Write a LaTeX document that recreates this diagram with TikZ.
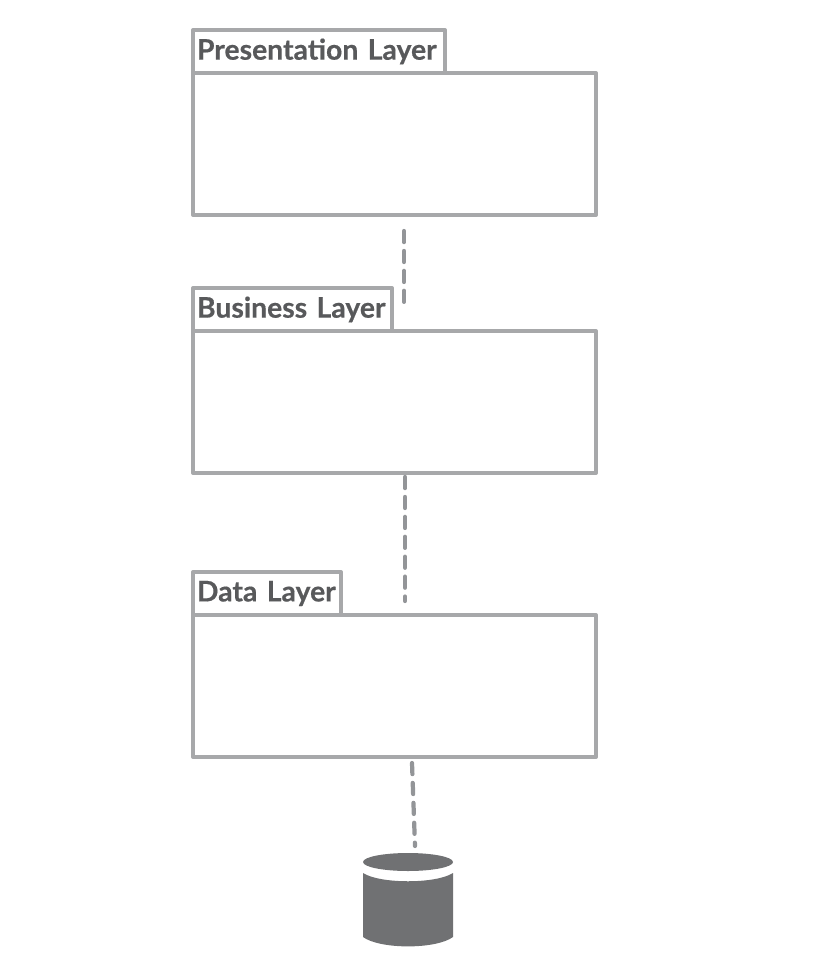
\documentclass[tikz,border=0pt]{standalone}
\usepackage{fontspec}
\setmainfont[BoldFeatures={FakeBold=0.5,WordSpace=0.6}]{Lato}
\definecolor{frameGray}{HTML}{A7A8AA}
\definecolor{linkGray}{HTML}{939598}
\definecolor{textGray}{HTML}{58595B}
\definecolor{dbGray}{HTML}{707173}
\tikzset{
    layer/.style={draw=frameGray,line width=3.5pt,line join=round,outer sep=0pt,minimum width=12.09cm,minimum height=4.26cm,inner sep=0pt,anchor=north west},
    tab/.style={draw=frameGray,line width=3.5pt,line join=round,outer sep=0pt,minimum height=1.29cm,inner ysep=0pt,inner xsep=0.12cm,anchor=south west,align=left,text=textGray,font=\bfseries\fontsize{24.2pt}{26pt}\selectfont},
    link/.style={draw=linkGray,line width=3.6pt,line cap=round,dash pattern=on 9.5pt off 7.5pt},
}
\begin{document}
\begin{tikzpicture}[x=0.03cm,y=-0.03cm]
        \useasboundingbox (0,0) rectangle (826,954);
        \node[layer] (P) at (193,73) {};
        \node[tab,text width=7.32cm] (Ptab) at (193,73) {Presentation Layer};
        \node[layer] (B) at (193,331) {};
        \node[tab,text width=5.73cm] (Btab) at (193,331) {Business Layer};
        \node[layer] (D) at (193,615) {};
        \node[tab,text width=4.2cm] (Dtab) at (193,615) {Data Layer};

        \coordinate (P1) at (404,231);
        \coordinate (B1) at (404,303);
        \coordinate (B2) at (405,477);
        \coordinate (D1) at (405,601);
        \coordinate (D2) at (412,763);
        \coordinate (C1) at (415,846);
        \draw[link] (P1) -- (B1);
        \draw[link] (B2) -- (D1);
        \draw[link] (D2) -- (C1);

        % database
        \fill[dbGray] (408,862) ellipse [x radius=45,y radius=9];
        \fill[dbGray] (363,873) .. controls (380,884) and (436,884) .. (453,873)
            -- (453,937) .. controls (436,949.5) and (380,949.5) .. (363,937) -- cycle;
    \end{tikzpicture}
\end{document}
